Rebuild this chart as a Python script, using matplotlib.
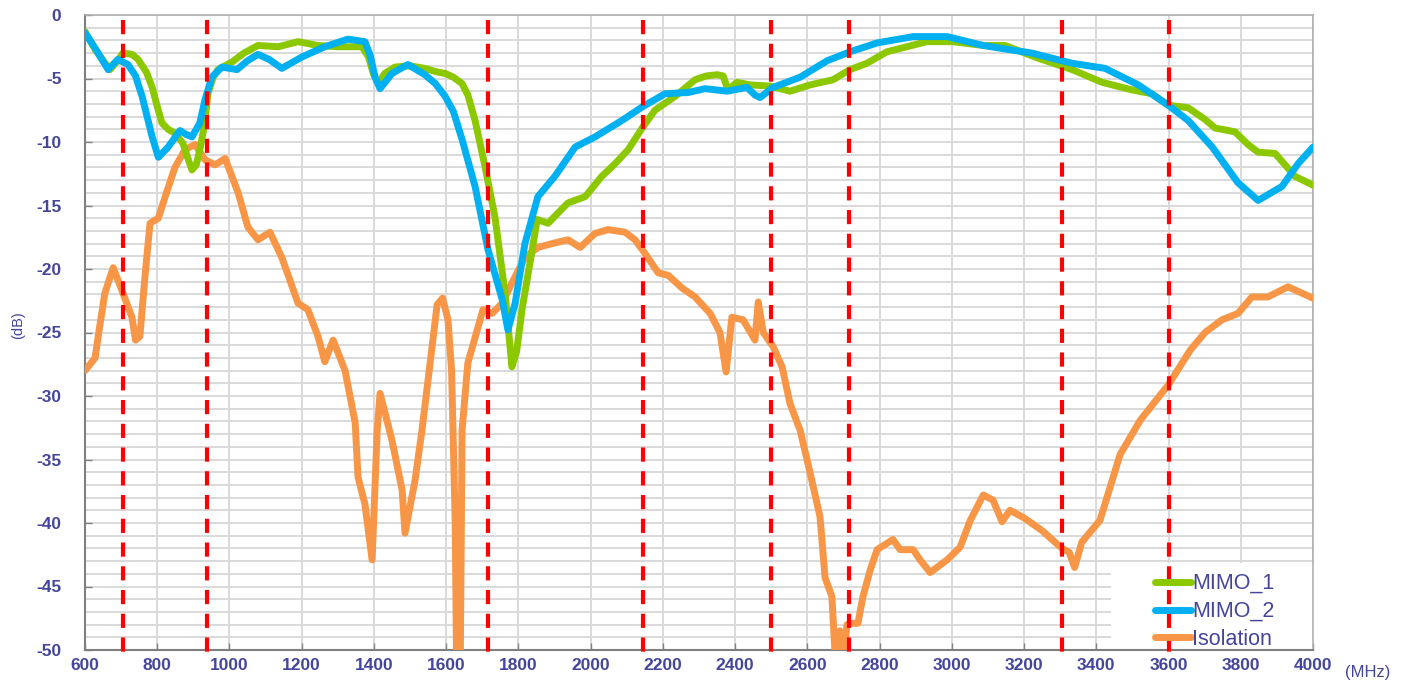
"""
Antenna return loss / isolation plot (MIMO_1, MIMO_2, Isolation)
"""

import matplotlib
matplotlib.use("Agg")
import matplotlib.pyplot as plt
from matplotlib.patches import Rectangle

# ==================== Data ====================

mimo1_freq = [600, 630, 669, 690, 705, 730, 747, 770, 786, 800, 813, 830, 849, 871, 885,
              896, 908, 918, 930, 941, 955, 968, 1007, 1040, 1079, 1135, 1190, 1245, 1300,
              1367, 1385, 1398, 1412, 1430, 1458, 1500, 1540, 1577, 1597, 1620, 1644, 1660,
              1680, 1708, 1735, 1763, 1782, 1795, 1810, 1838, 1852, 1882, 1937, 1985, 2031,
              2068, 2104, 2145, 2178, 2234, 2289, 2320, 2350, 2367, 2380, 2405, 2441, 2497,
              2552, 2608, 2671, 2718, 2765, 2820, 2875, 2931, 3003, 3087, 3147, 3239, 3333,
              3416, 3499, 3554, 3599, 3654, 3700, 3729, 3784, 3820, 3848, 3895, 3950, 4000]
mimo1_db = [-1.3, -2.8, -4.3, -3.6, -3.0, -3.1, -3.5, -4.5, -5.7, -7.2, -8.5, -9.0, -9.3, -10.1, -11.3,
            -12.2, -11.8, -10.6, -8.8, -6.1, -4.9, -4.3, -3.7, -3.0, -2.4, -2.5, -2.1, -2.4, -2.5,
            -2.5, -3.3, -4.6, -5.4, -4.6, -4.1, -4.0, -4.2, -4.5, -4.6, -4.9, -5.4, -6.3,
            -8.3, -12.0, -15.9, -21.9, -27.7, -26.5, -23.2, -18.5, -16.1, -16.4, -14.8, -14.3, -12.7,
            -11.7, -10.6, -8.8, -7.5, -6.4, -5.1, -4.8, -4.7, -4.8, -5.9, -5.3, -5.5, -5.6,
            -6.0, -5.5, -5.1, -4.3, -3.8, -2.9, -2.5, -2.1, -2.1, -2.4, -2.4, -3.4, -4.3,
            -5.3, -5.9, -6.2, -7.1, -7.3, -8.2, -8.9, -9.2, -10.2, -10.8, -10.9, -12.7, -13.4]

mimo2_freq = [600, 630, 664, 691, 719, 740, 758, 786, 803, 830, 863, 880, 896, 918, 932,
              951, 979, 1021, 1050, 1079, 1110, 1145, 1201, 1264, 1328, 1375, 1390, 1403,
              1417, 1450, 1494, 1541, 1570, 1597, 1620, 1644, 1680, 1716, 1755, 1771, 1791,
              1818, 1854, 1901, 1957, 2012, 2087, 2145, 2206, 2270, 2317, 2378, 2433, 2455,
              2469, 2505, 2580, 2655, 2718, 2793, 2893, 2987, 3087, 3153, 3222, 3333, 3424,
              3516, 3599, 3654, 3721, 3792, 3848, 3914, 3959, 4000]
mimo2_db = [-1.4, -2.7, -4.3, -3.5, -3.9, -4.8, -6.4, -9.6, -11.2, -10.4, -9.1, -9.4, -9.6, -8.5, -6.7,
            -4.9, -4.1, -4.3, -3.6, -3.1, -3.5, -4.2, -3.3, -2.5, -1.9, -2.1, -3.2, -4.9,
            -5.8, -4.6, -3.9, -4.7, -5.4, -6.4, -7.6, -9.8, -13.5, -18.5, -22.4, -24.8, -22.7,
            -18.0, -14.3, -12.7, -10.4, -9.6, -8.3, -7.2, -6.2, -6.1, -5.8, -6.0, -5.7, -6.3,
            -6.5, -5.7, -4.9, -3.6, -2.9, -2.2, -1.7, -1.7, -2.4, -2.7, -3.0, -3.8, -4.2,
            -5.5, -7.1, -8.3, -10.4, -13.2, -14.6, -13.5, -11.7, -10.4]

iso_freq = [600, 628, 636, 655, 678, 705, 730, 740, 752, 766, 780, 803, 822, 849, 877,
            905, 932, 960, 988, 1024, 1051, 1079, 1112, 1145, 1190, 1217, 1245, 1264, 1287,
            1320, 1348, 1356, 1375, 1395, 1409, 1417, 1450, 1478, 1486, 1514, 1533, 1550,
            1561, 1575, 1590, 1605, 1615, 1625, 1630, 1638, 1644, 1660, 1680, 1702, 1727,
            1755, 1782, 1818, 1854, 1893, 1937, 1971, 2012, 2048, 2095, 2123, 2151, 2187,
            2215, 2253, 2289, 2331, 2358, 2375, 2391, 2422, 2455, 2464, 2478, 2505, 2530,
            2552, 2580, 2608, 2635, 2649, 2668, 2677, 2690, 2700, 2710, 2718, 2740, 2754,
            2774, 2793, 2837, 2857, 2893, 2912, 2940, 2987, 3023, 3051, 3087, 3114, 3139,
            3161, 3200, 3250, 3305, 3325, 3340, 3360, 3410, 3466, 3522, 3600, 3660, 3701,
            3748, 3792, 3831, 3875, 3931, 4000]
iso_db = [-28.0, -27.0, -25.4, -21.9, -19.9, -21.9, -23.8, -25.6, -25.3, -20.6, -16.4, -16.0, -14.3, -12.0, -10.6,
          -10.2, -11.4, -11.8, -11.3, -14.0, -16.7, -17.7, -17.1, -19.1, -22.7, -23.2, -25.3, -27.3, -25.6,
          -28.0, -32.1, -36.4, -38.5, -42.9, -32.7, -29.8, -33.5, -37.4, -40.8, -36.6, -32.7, -28.7,
          -26.1, -22.8, -22.3, -24.0, -28.0, -40.0, -55.0, -55.0, -32.7, -27.4, -25.4, -23.2, -23.5,
          -22.7, -21.1, -19.1, -18.3, -18.0, -17.7, -18.3, -17.2, -16.9, -17.1, -17.7, -18.8, -20.3,
          -20.5, -21.5, -22.2, -23.5, -25.0, -28.1, -23.8, -24.0, -25.6, -22.6, -25.0, -26.1, -27.7,
          -30.6, -32.7, -36.1, -39.5, -44.3, -45.8, -50.5, -48.5, -50.5, -48.0, -47.9, -47.9, -45.8,
          -43.7, -42.1, -41.3, -42.1, -42.1, -42.9, -43.9, -42.9, -41.9, -39.8, -37.8, -38.2, -39.9,
          -39.0, -39.6, -40.6, -42.0, -42.3, -43.5, -41.5, -39.8, -34.6, -31.9, -29.1, -26.4, -25.0,
          -24.0, -23.5, -22.2, -22.2, -21.4, -22.3]

# band edges marked with red dashed lines (MHz)
band_edges = [705, 937, 1717, 2146, 2500, 2716, 3304, 3600]

x_ticks = list(range(600, 4001, 200))
y_ticks = list(range(-50, 1, 5))

# ==================== Plot ====================

plt.rcParams['font.family'] = ['Liberation Sans', 'DejaVu Sans']
plt.rcParams['axes.unicode_minus'] = False
label_color = '#45459a'

fig = plt.figure(figsize=(14.13, 6.83), dpi=100)
ax = fig.add_axes([85 / 1413, 33 / 683, 1228 / 1413, 635 / 683])

# grid: every 1 dB horizontally, every 200 MHz vertically
ax.set_axisbelow(True)
ax.set_yticks(range(-50, 1), minor=True)
ax.grid(True, which='both', axis='y', color='#d9d9d9', lw=1.4)
ax.grid(True, which='major', axis='x', color='#d9d9d9', lw=1.4)

ax.plot(iso_freq, iso_db, color='#f79646', lw=5, solid_joinstyle='round',
        solid_capstyle='round', label='Isolation', zorder=3)
ax.plot(mimo1_freq, mimo1_db, color='#8cc800', lw=5, solid_joinstyle='round',
        solid_capstyle='round', label='MIMO_1', zorder=4)
ax.plot(mimo2_freq, mimo2_db, color='#00b0f0', lw=5, solid_joinstyle='round',
        solid_capstyle='round', label='MIMO_2', zorder=5)

ax.vlines(band_edges, -0.4, -50.7, colors='#ff0000', linestyles=(0, (3.4, 2.3)),
          lw=3, zorder=6, clip_on=False)

ax.set_xlim(600, 4000)
ax.set_ylim(-50, 0)
ax.set_xticks(x_ticks)
ax.set_yticks(y_ticks)
ax.tick_params(axis='both', which='major', direction='in', length=5, width=1,
               color='#808080', labelcolor=label_color, labelsize=12.5)
ax.tick_params(axis='y', which='minor', length=0)
ax.tick_params(axis='y', pad=17)
ax.tick_params(axis='x', pad=6)
for lab in ax.get_xticklabels() + ax.get_yticklabels():
    lab.set_fontweight('bold')

for side in ['left', 'bottom']:
    ax.spines[side].set_color('#7f7f7f')
    ax.spines[side].set_linewidth(1.5)
for side in ['top', 'right']:
    ax.spines[side].set_color('#b0b0b0')
    ax.spines[side].set_linewidth(1.2)

# white box behind legend (covers grid like the original)
ax.add_patch(Rectangle((0.8355, 0.0), 0.1645, 0.137, transform=ax.transAxes,
                       facecolor='white', edgecolor='none', zorder=2))

handles, labels = ax.get_legend_handles_labels()
order = [1, 2, 0]
leg = ax.legend([handles[i] for i in order], [labels[i] for i in order],
                loc='lower left', bbox_to_anchor=(0.864, -0.0135), frameon=False,
                handlelength=1.7, handletextpad=0.05, labelspacing=0.32,
                fontsize=15.5, borderaxespad=0)
for t in leg.get_texts():
    t.set_color(label_color)
leg.set_zorder(7)

fig.text(18 / 1413, 1 - 325 / 683, '(dB)', rotation=90, ha='center', va='center',
         color=label_color, fontsize=10.5)
fig.text(1368 / 1413, 1 - 672 / 683, '(MHz)', ha='center', va='center',
         color=label_color, fontsize=12)

fig.savefig('out.png', dpi=100)
